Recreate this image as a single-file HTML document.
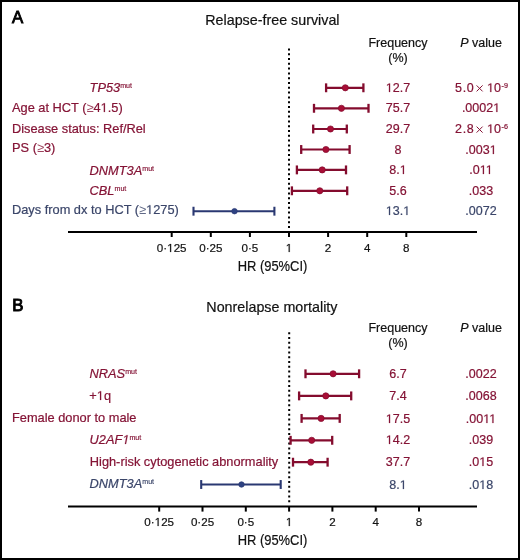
<!DOCTYPE html>
<html><head><meta charset="utf-8"><style>
html,body{margin:0;padding:0;background:#fff;}
#f{position:relative;width:516px;height:556px;border:2px solid #000;overflow:hidden;background:#fff;}
svg{position:absolute;left:-2px;top:-2px;will-change:transform;}
text{font-family:'Liberation Sans', sans-serif;stroke-width:0.2;paint-order:stroke;}
.one{fill-opacity:0;stroke-opacity:0;}
.ge{stroke-opacity:0;fill-opacity:0.8;}
</style></head><body><div id="f">
<svg width="520" height="560" viewBox="0 0 520 560">
<text x="11.9" y="23.3" font-size="16.8" fill="#000" text-anchor="start" stroke="#000" style="stroke-width:0.9">A</text>
<text x="272.4" y="24.5" font-size="14.3" fill="#111" text-anchor="middle"  stroke="#111">Relapse-free survival</text>
<text x="398" y="47" font-size="12.5" fill="#111" text-anchor="middle"  stroke="#111">Frequency</text>
<text x="398" y="62.4" font-size="12.5" fill="#111" text-anchor="middle"  stroke="#111">(%)</text>
<text x="481" y="47" font-size="12.5" fill="#111" stroke="#111" text-anchor="middle"><tspan font-style="italic">P</tspan> value</text>
<line x1="289" y1="48.4" x2="289" y2="228.0" stroke="#000" stroke-width="2" stroke-dasharray="2 2.8"/>
<line x1="68" y1="232" x2="477" y2="232" stroke="#000" stroke-width="2"/>
<line x1="171.7" y1="232" x2="171.7" y2="237" stroke="#000" stroke-width="2"/>
<text x="171.7" y="251.5" font-size="11.6" fill="#111" text-anchor="middle"  stroke="#111">0·<tspan class="one">1</tspan>25</text>
<line x1="210.8" y1="232" x2="210.8" y2="237" stroke="#000" stroke-width="2"/>
<text x="210.8" y="251.5" font-size="11.6" fill="#111" text-anchor="middle"  stroke="#111">0·25</text>
<line x1="249.9" y1="232" x2="249.9" y2="237" stroke="#000" stroke-width="2"/>
<text x="249.9" y="251.5" font-size="11.6" fill="#111" text-anchor="middle"  stroke="#111">0·5</text>
<line x1="289.0" y1="232" x2="289.0" y2="237" stroke="#000" stroke-width="2"/>
<text x="289.0" y="251.5" font-size="11.6" fill="#111" text-anchor="middle"  stroke="#111"><tspan class="one">1</tspan></text>
<line x1="328.1" y1="232" x2="328.1" y2="237" stroke="#000" stroke-width="2"/>
<text x="328.1" y="251.5" font-size="11.6" fill="#111" text-anchor="middle"  stroke="#111">2</text>
<line x1="367.2" y1="232" x2="367.2" y2="237" stroke="#000" stroke-width="2"/>
<text x="367.2" y="251.5" font-size="11.6" fill="#111" text-anchor="middle"  stroke="#111">4</text>
<line x1="406.3" y1="232" x2="406.3" y2="237" stroke="#000" stroke-width="2"/>
<text x="406.3" y="251.5" font-size="11.6" fill="#111" text-anchor="middle"  stroke="#111">8</text>
<text transform="translate(272.5 270.8) scale(0.925 1)" font-size="14" fill="#111" stroke="#111" text-anchor="middle">HR (95%CI)</text>
<line x1="326.1" y1="87.8" x2="363.4" y2="87.8" stroke="#840c2e" stroke-width="2.2"/>
<line x1="326.1" y1="83.35" x2="326.1" y2="92.25" stroke="#840c2e" stroke-width="2.3"/>
<line x1="363.4" y1="83.35" x2="363.4" y2="92.25" stroke="#840c2e" stroke-width="2.3"/>
<circle cx="345.3" cy="87.8" r="3.1" fill="#a80e36" stroke="#840c2e" stroke-width="0.7"/>
<text x="89.6" y="92.0" font-size="12.8" fill="#841335" stroke="#841335"><tspan font-style="italic">TP53</tspan><tspan font-size="7.1" dy="-3.9" stroke="#841335" stroke-width="0.15">mut</tspan></text>
<text x="398" y="91.9" font-size="12.5" fill="#841335" text-anchor="middle"  stroke="#841335"><tspan class="one">1</tspan>2.7</text>
<text x="474.3" y="91.9" font-size="12.5" fill="#841335" text-anchor="end" letter-spacing="0.6" stroke="#841335">5.0</text>
<path d="M476.6 85.39999999999999L482.6 91.39999999999999M482.6 85.39999999999999L476.6 91.39999999999999" stroke="#841335" stroke-width="1.0" fill="none"/>
<text x="501.0" y="91.9" font-size="12.5" fill="#841335" text-anchor="end"  stroke="#841335"><tspan class="one">1</tspan>0</text>
<text x="501.4" y="87.6" font-size="7.2" fill="#841335" text-anchor="start" letter-spacing="0.3" stroke="#841335">-9</text>
<line x1="314" y1="108.3" x2="368.5" y2="108.3" stroke="#840c2e" stroke-width="2.2"/>
<line x1="314" y1="103.85" x2="314" y2="112.75" stroke="#840c2e" stroke-width="2.3"/>
<line x1="368.5" y1="103.85" x2="368.5" y2="112.75" stroke="#840c2e" stroke-width="2.3"/>
<circle cx="341.4" cy="108.3" r="3.1" fill="#a80e36" stroke="#840c2e" stroke-width="0.7"/>
<text x="12" y="111.5" font-size="12.8" fill="#841335" text-anchor="start"  stroke="#841335">Age at HCT (<tspan class="ge">≥</tspan>4<tspan class="one">1</tspan>.5)</text>
<text x="398" y="112.4" font-size="12.5" fill="#841335" text-anchor="middle"  stroke="#841335">75.7</text>
<text x="481" y="112.4" font-size="12.5" fill="#841335" text-anchor="middle"  stroke="#841335">.0002<tspan class="one">1</tspan></text>
<line x1="313.2" y1="129" x2="346.8" y2="129" stroke="#840c2e" stroke-width="2.2"/>
<line x1="313.2" y1="124.55" x2="313.2" y2="133.45" stroke="#840c2e" stroke-width="2.3"/>
<line x1="346.8" y1="124.55" x2="346.8" y2="133.45" stroke="#840c2e" stroke-width="2.3"/>
<circle cx="330.5" cy="129" r="3.1" fill="#a80e36" stroke="#840c2e" stroke-width="0.7"/>
<text x="12" y="133.1" font-size="12.8" fill="#841335" text-anchor="start"  stroke="#841335">Disease status: Ref/Rel</text>
<text x="398" y="133.1" font-size="12.5" fill="#841335" text-anchor="middle"  stroke="#841335">29.7</text>
<text x="474.3" y="133.1" font-size="12.5" fill="#841335" text-anchor="end" letter-spacing="0.6" stroke="#841335">2.8</text>
<path d="M476.6 126.6L482.6 132.6M482.6 126.6L476.6 132.6" stroke="#841335" stroke-width="1.0" fill="none"/>
<text x="501.0" y="133.1" font-size="12.5" fill="#841335" text-anchor="end"  stroke="#841335"><tspan class="one">1</tspan>0</text>
<text x="501.4" y="128.8" font-size="7.2" fill="#841335" text-anchor="start" letter-spacing="0.3" stroke="#841335">-6</text>
<line x1="301.2" y1="149.5" x2="349.6" y2="149.5" stroke="#840c2e" stroke-width="2.2"/>
<line x1="301.2" y1="145.05" x2="301.2" y2="153.95" stroke="#840c2e" stroke-width="2.3"/>
<line x1="349.6" y1="145.05" x2="349.6" y2="153.95" stroke="#840c2e" stroke-width="2.3"/>
<circle cx="325.9" cy="149.5" r="3.1" fill="#a80e36" stroke="#840c2e" stroke-width="0.7"/>
<text x="12" y="152.1" font-size="12.8" fill="#841335" text-anchor="start"  stroke="#841335">PS (<tspan class="ge">≥</tspan>3)</text>
<text x="398" y="153.6" font-size="12.5" fill="#841335" text-anchor="middle"  stroke="#841335">8</text>
<text x="481" y="153.6" font-size="12.5" fill="#841335" text-anchor="middle"  stroke="#841335">.003<tspan class="one">1</tspan></text>
<line x1="296.9" y1="169.9" x2="346" y2="169.9" stroke="#840c2e" stroke-width="2.2"/>
<line x1="296.9" y1="165.45000000000002" x2="296.9" y2="174.35" stroke="#840c2e" stroke-width="2.3"/>
<line x1="346" y1="165.45000000000002" x2="346" y2="174.35" stroke="#840c2e" stroke-width="2.3"/>
<circle cx="322.2" cy="169.9" r="3.1" fill="#a80e36" stroke="#840c2e" stroke-width="0.7"/>
<text x="89.6" y="174.6" font-size="12.8" fill="#841335" stroke="#841335"><tspan font-style="italic">DNMT3A</tspan><tspan font-size="7.1" dy="-3.9" stroke="#841335" stroke-width="0.15">mut</tspan></text>
<text x="398" y="174.0" font-size="12.5" fill="#841335" text-anchor="middle"  stroke="#841335">8.<tspan class="one">1</tspan></text>
<text x="481" y="174.0" font-size="12.5" fill="#841335" text-anchor="middle"  stroke="#841335">.0<tspan class="one">1</tspan><tspan class="one">1</tspan></text>
<line x1="291.9" y1="190.8" x2="347.2" y2="190.8" stroke="#840c2e" stroke-width="2.2"/>
<line x1="291.9" y1="186.35000000000002" x2="291.9" y2="195.25" stroke="#840c2e" stroke-width="2.3"/>
<line x1="347.2" y1="186.35000000000002" x2="347.2" y2="195.25" stroke="#840c2e" stroke-width="2.3"/>
<circle cx="319.8" cy="190.8" r="3.1" fill="#a80e36" stroke="#840c2e" stroke-width="0.7"/>
<text x="89.6" y="194.8" font-size="12.8" fill="#841335" stroke="#841335"><tspan font-style="italic">CBL</tspan><tspan font-size="7.1" dy="-3.9" stroke="#841335" stroke-width="0.15">mut</tspan></text>
<text x="398" y="194.9" font-size="12.5" fill="#841335" text-anchor="middle"  stroke="#841335">5.6</text>
<text x="481" y="194.9" font-size="12.5" fill="#841335" text-anchor="middle"  stroke="#841335">.033</text>
<line x1="193.5" y1="211.2" x2="274.4" y2="211.2" stroke="#2a3872" stroke-width="1.9"/>
<line x1="193.5" y1="206.75" x2="193.5" y2="215.64999999999998" stroke="#2a3872" stroke-width="2.1"/>
<line x1="274.4" y1="206.75" x2="274.4" y2="215.64999999999998" stroke="#2a3872" stroke-width="2.1"/>
<circle cx="234.5" cy="211.2" r="2.75" fill="#2e4282" stroke="#2a3872" stroke-width="0.7"/>
<text x="12" y="214.1" font-size="12.8" fill="#3a4569" text-anchor="start"  stroke="#3a4569">Days from dx to HCT (<tspan class="ge">≥</tspan><tspan class="one">1</tspan>275)</text>
<text x="398" y="215.3" font-size="12.5" fill="#3a4569" text-anchor="middle"  stroke="#3a4569"><tspan class="one">1</tspan>3.<tspan class="one">1</tspan></text>
<text x="481" y="215.3" font-size="12.5" fill="#3a4569" text-anchor="middle"  stroke="#3a4569">.0072</text>
<text x="12.3" y="311.4" font-size="16.8" fill="#000" text-anchor="start" stroke="#000" style="stroke-width:0.9">B</text>
<text x="271.9" y="312.4" font-size="14.3" fill="#111" text-anchor="middle"  stroke="#111">Nonrelapse mortality</text>
<text x="398" y="331.7" font-size="12.5" fill="#111" text-anchor="middle"  stroke="#111">Frequency</text>
<text x="398" y="347.1" font-size="12.5" fill="#111" text-anchor="middle"  stroke="#111">(%)</text>
<text x="481" y="331.7" font-size="12.5" fill="#111" stroke="#111" text-anchor="middle"><tspan font-style="italic">P</tspan> value</text>
<line x1="289.2" y1="332.2" x2="289.2" y2="502.2" stroke="#000" stroke-width="2" stroke-dasharray="2 2.8"/>
<line x1="68" y1="506.6" x2="477" y2="506.6" stroke="#000" stroke-width="2"/>
<line x1="159.20000000000005" y1="506.6" x2="159.20000000000005" y2="511.6" stroke="#000" stroke-width="2"/>
<text x="159.20000000000005" y="526.2" font-size="11.6" fill="#111" text-anchor="middle"  stroke="#111">0·<tspan class="one">1</tspan>25</text>
<line x1="202.50000000000003" y1="506.6" x2="202.50000000000003" y2="511.6" stroke="#000" stroke-width="2"/>
<text x="202.50000000000003" y="526.2" font-size="11.6" fill="#111" text-anchor="middle"  stroke="#111">0·25</text>
<line x1="245.8" y1="506.6" x2="245.8" y2="511.6" stroke="#000" stroke-width="2"/>
<text x="245.8" y="526.2" font-size="11.6" fill="#111" text-anchor="middle"  stroke="#111">0·5</text>
<line x1="289.1" y1="506.6" x2="289.1" y2="511.6" stroke="#000" stroke-width="2"/>
<text x="289.1" y="526.2" font-size="11.6" fill="#111" text-anchor="middle"  stroke="#111"><tspan class="one">1</tspan></text>
<line x1="332.40000000000003" y1="506.6" x2="332.40000000000003" y2="511.6" stroke="#000" stroke-width="2"/>
<text x="332.40000000000003" y="526.2" font-size="11.6" fill="#111" text-anchor="middle"  stroke="#111">2</text>
<line x1="375.70000000000005" y1="506.6" x2="375.70000000000005" y2="511.6" stroke="#000" stroke-width="2"/>
<text x="375.70000000000005" y="526.2" font-size="11.6" fill="#111" text-anchor="middle"  stroke="#111">4</text>
<line x1="419.0" y1="506.6" x2="419.0" y2="511.6" stroke="#000" stroke-width="2"/>
<text x="419.0" y="526.2" font-size="11.6" fill="#111" text-anchor="middle"  stroke="#111">8</text>
<text transform="translate(272.5 545.4) scale(0.925 1)" font-size="14" fill="#111" stroke="#111" text-anchor="middle">HR (95%CI)</text>
<line x1="305.5" y1="373.8" x2="359.1" y2="373.8" stroke="#840c2e" stroke-width="2.2"/>
<line x1="305.5" y1="369.35" x2="305.5" y2="378.25" stroke="#840c2e" stroke-width="2.3"/>
<line x1="359.1" y1="369.35" x2="359.1" y2="378.25" stroke="#840c2e" stroke-width="2.3"/>
<circle cx="333.1" cy="373.8" r="3.1" fill="#a80e36" stroke="#840c2e" stroke-width="0.7"/>
<text x="89.6" y="378.25" font-size="12.8" fill="#841335" stroke="#841335"><tspan font-style="italic">NRAS</tspan><tspan font-size="7.1" dy="-3.9" stroke="#841335" stroke-width="0.15">mut</tspan></text>
<text x="398" y="377.9" font-size="12.5" fill="#841335" text-anchor="middle"  stroke="#841335">6.7</text>
<text x="481" y="377.9" font-size="12.5" fill="#841335" text-anchor="middle"  stroke="#841335">.0022</text>
<line x1="299.1" y1="395.9" x2="351.2" y2="395.9" stroke="#840c2e" stroke-width="2.2"/>
<line x1="299.1" y1="391.45" x2="299.1" y2="400.34999999999997" stroke="#840c2e" stroke-width="2.3"/>
<line x1="351.2" y1="391.45" x2="351.2" y2="400.34999999999997" stroke="#840c2e" stroke-width="2.3"/>
<circle cx="325.8" cy="395.9" r="3.1" fill="#a80e36" stroke="#840c2e" stroke-width="0.7"/>
<text x="89.3" y="400.4" font-size="12.8" fill="#841335" text-anchor="start"  stroke="#841335">+<tspan class="one">1</tspan>q</text>
<text x="398" y="400.0" font-size="12.5" fill="#841335" text-anchor="middle"  stroke="#841335">7.4</text>
<text x="481" y="400.0" font-size="12.5" fill="#841335" text-anchor="middle"  stroke="#841335">.0068</text>
<line x1="301.6" y1="418.4" x2="339.7" y2="418.4" stroke="#840c2e" stroke-width="2.2"/>
<line x1="301.6" y1="413.95" x2="301.6" y2="422.84999999999997" stroke="#840c2e" stroke-width="2.3"/>
<line x1="339.7" y1="413.95" x2="339.7" y2="422.84999999999997" stroke="#840c2e" stroke-width="2.3"/>
<circle cx="321.1" cy="418.4" r="3.1" fill="#a80e36" stroke="#840c2e" stroke-width="0.7"/>
<text x="12" y="421.95" font-size="12.8" fill="#841335" text-anchor="start"  stroke="#841335">Female donor to male</text>
<text x="398" y="422.5" font-size="12.5" fill="#841335" text-anchor="middle"  stroke="#841335"><tspan class="one">1</tspan>7.5</text>
<text x="481" y="422.5" font-size="12.5" fill="#841335" text-anchor="middle"  stroke="#841335">.00<tspan class="one">1</tspan><tspan class="one">1</tspan></text>
<line x1="290.6" y1="440.3" x2="332.2" y2="440.3" stroke="#840c2e" stroke-width="2.2"/>
<line x1="290.6" y1="435.85" x2="290.6" y2="444.75" stroke="#840c2e" stroke-width="2.3"/>
<line x1="332.2" y1="435.85" x2="332.2" y2="444.75" stroke="#840c2e" stroke-width="2.3"/>
<circle cx="311.7" cy="440.3" r="3.1" fill="#a80e36" stroke="#840c2e" stroke-width="0.7"/>
<text x="89.6" y="444.2" font-size="12.8" fill="#841335" stroke="#841335"><tspan font-style="italic">U2AF<tspan class="one">1</tspan></tspan><tspan font-size="7.1" dy="-3.9" stroke="#841335" stroke-width="0.15">mut</tspan></text>
<text x="398" y="444.4" font-size="12.5" fill="#841335" text-anchor="middle"  stroke="#841335"><tspan class="one">1</tspan>4.2</text>
<text x="481" y="444.4" font-size="12.5" fill="#841335" text-anchor="middle"  stroke="#841335">.039</text>
<line x1="293" y1="462.2" x2="327.6" y2="462.2" stroke="#840c2e" stroke-width="2.2"/>
<line x1="293" y1="457.75" x2="293" y2="466.65" stroke="#840c2e" stroke-width="2.3"/>
<line x1="327.6" y1="457.75" x2="327.6" y2="466.65" stroke="#840c2e" stroke-width="2.3"/>
<circle cx="310.8" cy="462.2" r="3.1" fill="#a80e36" stroke="#840c2e" stroke-width="0.7"/>
<text x="89.8" y="466.1" font-size="12.8" fill="#841335" text-anchor="start"  stroke="#841335">High-risk cytogenetic abnormality</text>
<text x="398" y="466.3" font-size="12.5" fill="#841335" text-anchor="middle"  stroke="#841335">37.7</text>
<text x="481" y="466.3" font-size="12.5" fill="#841335" text-anchor="middle"  stroke="#841335">.0<tspan class="one">1</tspan>5</text>
<line x1="201.2" y1="484.5" x2="280.7" y2="484.5" stroke="#2a3872" stroke-width="1.9"/>
<line x1="201.2" y1="480.05" x2="201.2" y2="488.95" stroke="#2a3872" stroke-width="2.1"/>
<line x1="280.7" y1="480.05" x2="280.7" y2="488.95" stroke="#2a3872" stroke-width="2.1"/>
<circle cx="241.5" cy="484.5" r="2.75" fill="#2e4282" stroke="#2a3872" stroke-width="0.7"/>
<text x="89.6" y="487.8" font-size="12.8" fill="#3a4569" stroke="#3a4569"><tspan font-style="italic">DNMT3A</tspan><tspan font-size="7.1" dy="-3.9" stroke="#3a4569" stroke-width="0.15">mut</tspan></text>
<text x="398" y="488.6" font-size="12.5" fill="#3a4569" text-anchor="middle"  stroke="#3a4569">8.<tspan class="one">1</tspan></text>
<text x="481" y="488.6" font-size="12.5" fill="#3a4569" text-anchor="middle"  stroke="#3a4569">.0<tspan class="one">1</tspan>8</text>
<path d="M515 0L515 1237L197 1010L197 1180L530 1409L696 1409L696 0Z" transform="translate(167.18 252) scale(0.00566 -0.00566)" fill="rgb(17, 17, 17)" stroke="rgb(17, 17, 17)" stroke-width="35.3" paint-order="stroke"/>
<path d="M515 0L515 1237L197 1010L197 1180L530 1409L696 1409L696 0Z" transform="translate(285.77 252) scale(0.00566 -0.00566)" fill="rgb(17, 17, 17)" stroke="rgb(17, 17, 17)" stroke-width="35.3" paint-order="stroke"/>
<path d="M515 0L515 1237L197 1010L197 1180L530 1409L696 1409L696 0Z" transform="translate(385.83 92) scale(0.00610 -0.00610)" fill="rgb(132, 19, 53)" stroke="rgb(132, 19, 53)" stroke-width="32.8" paint-order="stroke"/>
<path d="M515 0L515 1237L197 1010L197 1180L530 1409L696 1409L696 0Z" transform="translate(487.09 92) scale(0.00610 -0.00610)" fill="rgb(132, 19, 53)" stroke="rgb(132, 19, 53)" stroke-width="32.8" paint-order="stroke"/>
<path d="M515 0L515 1237L197 1010L197 1180L530 1409L696 1409L696 0Z" transform="translate(100.61 112) scale(0.00625 -0.00625)" fill="rgb(132, 19, 53)" stroke="rgb(132, 19, 53)" stroke-width="32.0" paint-order="stroke"/>
<path d="M515 0L515 1237L197 1010L197 1180L530 1409L696 1409L696 0Z" transform="translate(493.16 112) scale(0.00610 -0.00610)" fill="rgb(132, 19, 53)" stroke="rgb(132, 19, 53)" stroke-width="32.8" paint-order="stroke"/>
<path d="M515 0L515 1237L197 1010L197 1180L530 1409L696 1409L696 0Z" transform="translate(487.09 133) scale(0.00610 -0.00610)" fill="rgb(132, 19, 53)" stroke="rgb(132, 19, 53)" stroke-width="32.8" paint-order="stroke"/>
<path d="M515 0L515 1237L197 1010L197 1180L530 1409L696 1409L696 0Z" transform="translate(489.70 154) scale(0.00610 -0.00610)" fill="rgb(132, 19, 53)" stroke="rgb(132, 19, 53)" stroke-width="32.8" paint-order="stroke"/>
<path d="M515 0L515 1237L197 1010L197 1180L530 1409L696 1409L696 0Z" transform="translate(399.74 174) scale(0.00610 -0.00610)" fill="rgb(132, 19, 53)" stroke="rgb(132, 19, 53)" stroke-width="32.8" paint-order="stroke"/>
<path d="M515 0L515 1237L197 1010L197 1180L530 1409L696 1409L696 0Z" transform="translate(479.73 174) scale(0.00610 -0.00610)" fill="rgb(132, 19, 53)" stroke="rgb(132, 19, 53)" stroke-width="32.8" paint-order="stroke"/>
<path d="M515 0L515 1237L197 1010L197 1180L530 1409L696 1409L696 0Z" transform="translate(485.76 174) scale(0.00610 -0.00610)" fill="rgb(132, 19, 53)" stroke="rgb(132, 19, 53)" stroke-width="32.8" paint-order="stroke"/>
<path d="M515 0L515 1237L197 1010L197 1180L530 1409L696 1409L696 0Z" transform="translate(146.08 214) scale(0.00625 -0.00625)" fill="rgb(58, 69, 105)" stroke="rgb(58, 69, 105)" stroke-width="32.0" paint-order="stroke"/>
<path d="M515 0L515 1237L197 1010L197 1180L530 1409L696 1409L696 0Z" transform="translate(385.83 215) scale(0.00610 -0.00610)" fill="rgb(58, 69, 105)" stroke="rgb(58, 69, 105)" stroke-width="32.8" paint-order="stroke"/>
<path d="M515 0L515 1237L197 1010L197 1180L530 1409L696 1409L696 0Z" transform="translate(403.22 215) scale(0.00610 -0.00610)" fill="rgb(58, 69, 105)" stroke="rgb(58, 69, 105)" stroke-width="32.8" paint-order="stroke"/>
<path d="M515 0L515 1237L197 1010L197 1180L530 1409L696 1409L696 0Z" transform="translate(154.68 526) scale(0.00566 -0.00566)" fill="rgb(17, 17, 17)" stroke="rgb(17, 17, 17)" stroke-width="35.3" paint-order="stroke"/>
<path d="M515 0L515 1237L197 1010L197 1180L530 1409L696 1409L696 0Z" transform="translate(285.87 526) scale(0.00566 -0.00566)" fill="rgb(17, 17, 17)" stroke="rgb(17, 17, 17)" stroke-width="35.3" paint-order="stroke"/>
<path d="M515 0L515 1237L197 1010L197 1180L530 1409L696 1409L696 0Z" transform="translate(96.78 400) scale(0.00625 -0.00625)" fill="rgb(132, 19, 53)" stroke="rgb(132, 19, 53)" stroke-width="32.0" paint-order="stroke"/>
<path d="M515 0L515 1237L197 1010L197 1180L530 1409L696 1409L696 0Z" transform="translate(385.83 423) scale(0.00610 -0.00610)" fill="rgb(132, 19, 53)" stroke="rgb(132, 19, 53)" stroke-width="32.8" paint-order="stroke"/>
<path d="M515 0L515 1237L197 1010L197 1180L530 1409L696 1409L696 0Z" transform="translate(483.20 423) scale(0.00610 -0.00610)" fill="rgb(132, 19, 53)" stroke="rgb(132, 19, 53)" stroke-width="32.8" paint-order="stroke"/>
<path d="M515 0L515 1237L197 1010L197 1180L530 1409L696 1409L696 0Z" transform="translate(489.23 423) scale(0.00610 -0.00610)" fill="rgb(132, 19, 53)" stroke="rgb(132, 19, 53)" stroke-width="32.8" paint-order="stroke"/>
<path d="M412.3 0L650 1223L289 1000L324 1180L701 1409L867 1409L593.3 0Z" transform="translate(122.32 444) scale(0.00625 -0.00625)" fill="rgb(132, 19, 53)" stroke="rgb(132, 19, 53)" stroke-width="32.0" paint-order="stroke"/>
<path d="M515 0L515 1237L197 1010L197 1180L530 1409L696 1409L696 0Z" transform="translate(385.83 444) scale(0.00610 -0.00610)" fill="rgb(132, 19, 53)" stroke="rgb(132, 19, 53)" stroke-width="32.8" paint-order="stroke"/>
<path d="M515 0L515 1237L197 1010L197 1180L530 1409L696 1409L696 0Z" transform="translate(479.27 466) scale(0.00610 -0.00610)" fill="rgb(132, 19, 53)" stroke="rgb(132, 19, 53)" stroke-width="32.8" paint-order="stroke"/>
<path d="M515 0L515 1237L197 1010L197 1180L530 1409L696 1409L696 0Z" transform="translate(399.74 489) scale(0.00610 -0.00610)" fill="rgb(58, 69, 105)" stroke="rgb(58, 69, 105)" stroke-width="32.8" paint-order="stroke"/>
<path d="M515 0L515 1237L197 1010L197 1180L530 1409L696 1409L696 0Z" transform="translate(479.27 489) scale(0.00610 -0.00610)" fill="rgb(58, 69, 105)" stroke="rgb(58, 69, 105)" stroke-width="32.8" paint-order="stroke"/>
</svg></div></body></html>
